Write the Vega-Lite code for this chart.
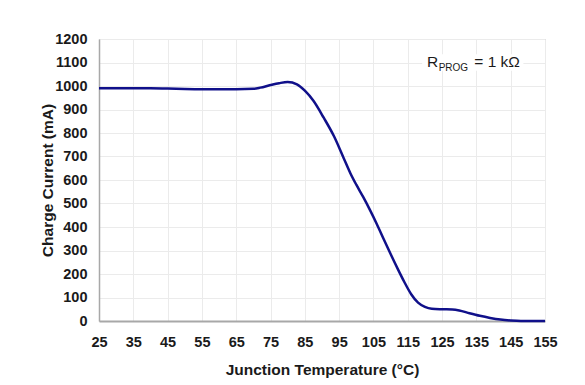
{
  "$schema": "https://vega.github.io/schema/vega-lite/v6.json",
  "autosize": {"type": "none"},
  "width": 446,
  "height": 282,
  "padding": {"left": 99, "top": 39, "right": 40, "bottom": 64},
  "background": "white",
  "config": {
    "font": "Liberation Sans",
    "view": {"stroke": "#b4b4b4", "strokeWidth": 1}
  },
  "datasets": {
    "curve": [
      {"t": 25, "i": 990}, {"t": 30, "i": 990}, {"t": 35, "i": 990}, {"t": 40, "i": 990},
      {"t": 45, "i": 989}, {"t": 50, "i": 987}, {"t": 55, "i": 986}, {"t": 60, "i": 986},
      {"t": 65, "i": 986}, {"t": 70, "i": 988}, {"t": 72, "i": 993}, {"t": 75, "i": 1004},
      {"t": 77.5, "i": 1012}, {"t": 80, "i": 1017}, {"t": 82.7, "i": 1007}, {"t": 85, "i": 980},
      {"t": 87.5, "i": 937}, {"t": 90.5, "i": 865}, {"t": 93.5, "i": 786}, {"t": 96.3, "i": 694},
      {"t": 98.3, "i": 628}, {"t": 100, "i": 580}, {"t": 102, "i": 528}, {"t": 104, "i": 472},
      {"t": 106, "i": 412}, {"t": 108, "i": 348}, {"t": 110, "i": 285}, {"t": 112, "i": 224},
      {"t": 114, "i": 166}, {"t": 116, "i": 114}, {"t": 118, "i": 78}, {"t": 120, "i": 60},
      {"t": 122, "i": 52}, {"t": 125, "i": 50}, {"t": 128, "i": 49}, {"t": 130, "i": 45},
      {"t": 133, "i": 33}, {"t": 136, "i": 22}, {"t": 139, "i": 13}, {"t": 142, "i": 6},
      {"t": 145, "i": 2}, {"t": 148, "i": 0}, {"t": 155, "i": 0}
    ]
  },
  "encoding": {
    "x": {
      "field": "t", "type": "quantitative",
      "scale": {"domain": [25, 155], "nice": false, "zero": false},
      "axis": {
        "title": "Junction Temperature (°C)",
        "values": [25, 35, 45, 55, 65, 75, 85, 95, 105, 115, 125, 135, 145, 155],
        "format": "d",
        "grid": true, "gridColor": "#ebebeb", "gridWidth": 1,
        "ticks": false,
        "domainColor": "#a8a8a8", "domainWidth": 2,
        "labelFont": "Liberation Sans", "labelFontSize": 14.5, "labelFontWeight": "bold", "labelColor": "#1a1a1a",
        "labelPadding": 14,
        "labelFlush": false, "labelOverlap": false,
        "titleFont": "Liberation Sans", "titleFontSize": 15.5, "titleFontWeight": "bold", "titleColor": "#1a1a1a",
        "titleBaseline": "alphabetic", "titleY": 53
      }
    },
    "y": {
      "field": "i", "type": "quantitative",
      "scale": {"domain": [0, 1200], "nice": false},
      "axis": {
        "title": "Charge Current (mA)",
        "values": [0, 100, 200, 300, 400, 500, 600, 700, 800, 900, 1000, 1100, 1200],
        "format": "d",
        "grid": true, "gridColor": "#ebebeb", "gridWidth": 1,
        "ticks": false,
        "domainColor": "#a8a8a8", "domainWidth": 1.5,
        "labelFont": "Liberation Sans", "labelFontSize": 14.5, "labelFontWeight": "bold", "labelColor": "#1a1a1a",
        "labelPadding": 12, "labelFlush": false, "labelOverlap": false,
        "titleFont": "Liberation Sans", "titleFontSize": 15.5, "titleFontWeight": "bold", "titleColor": "#1a1a1a",
        "titleBaseline": "alphabetic", "titleX": -47, "titleY": 141, "titleAngle": -90
      }
    }
  },
  "layer": [
    {
      "data": {"values": [{"t": 119.2, "t2": 148.7, "i": 1065, "i2": 1135}]},
      "mark": {"type": "rect", "fill": "white", "stroke": null},
      "encoding": {
        "x2": {"field": "t2"},
        "y2": {"field": "i2"}
      }
    },
    {
      "data": {"name": "curve"},
      "mark": {"type": "line", "interpolate": "monotone", "color": "#10108a", "strokeWidth": 2.5}
    },
    {
      "data": {"values": [{"t": 120.6, "i": 1080, "label": "R"}]},
      "mark": {"type": "text", "align": "left", "baseline": "alphabetic", "font": "Liberation Sans", "fontSize": 15.5, "color": "#1a1a1a"},
      "encoding": {"text": {"field": "label"}}
    },
    {
      "data": {"values": [{"t": 124.0, "i": 1063, "label": "PROG"}]},
      "mark": {"type": "text", "align": "left", "baseline": "alphabetic", "font": "Liberation Sans", "fontSize": 10, "color": "#1a1a1a"},
      "encoding": {"text": {"field": "label"}}
    },
    {
      "data": {"values": [{"t": 134.4, "i": 1080, "label": "= 1 kΩ"}]},
      "mark": {"type": "text", "align": "left", "baseline": "alphabetic", "font": "Liberation Sans", "fontSize": 15.5, "color": "#1a1a1a"},
      "encoding": {"text": {"field": "label"}}
    }
  ]
}
